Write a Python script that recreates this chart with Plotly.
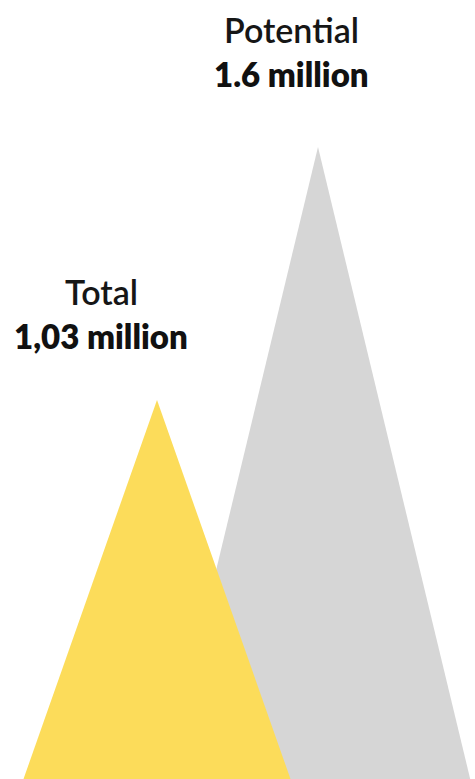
import plotly.graph_objects as go

# Values in millions
categories = ["Total", "Potential"]
values = [1.03, 1.6]
value_labels = ["1,03 million", "1.6 million"]

colors = {"Total": "#FCDC5A", "Potential": "#D6D6D6"}

W, H = 475, 779

# Triangle geometry (x in pixel-like units, y in millions)
centers = {"Total": 157, "Potential": 318}
half_base = {"Total": 161, "Potential": 171}

# Label placement (x in axis units, y as pixel offset from top)
label_x = {"Total": 101, "Potential": 291}
label_top = {"Total": 291, "Potential": 29}
line_gap = 45

fig = go.Figure()

# Draw the taller one first so the smaller sits in front
for name in ["Potential", "Total"]:
    v = values[categories.index(name)]
    c = centers[name]
    hb = half_base[name]
    fig.add_trace(go.Scatter(
        x=[c - hb, c, c + hb, c - hb],
        y=[0, v, 0, 0],
        mode="lines",
        fill="toself",
        fillcolor=colors[name],
        line=dict(width=0, color=colors[name]),
        hoverinfo="skip",
        showlegend=False,
    ))

for name, lab in zip(categories, value_labels):
    py = label_top[name]
    fig.add_annotation(
        x=label_x[name], xref="x",
        y=1 - py / H, yref="paper",
        text=name, showarrow=False,
        font=dict(family="Lato", size=34, color="#161616", weight=600),
        xanchor="center", yanchor="middle",
    )
    fig.add_annotation(
        x=label_x[name], xref="x",
        y=1 - (py + line_gap) / H, yref="paper",
        text=lab, showarrow=False,
        font=dict(family="Lato", size=33, color="#111111", weight=800),
        xanchor="center", yanchor="middle",
    )

fig.update_layout(
    width=W, height=H,
    margin=dict(l=0, r=0, t=0, b=0),
    paper_bgcolor="white", plot_bgcolor="white",
    xaxis=dict(range=[0, W], visible=False, fixedrange=True),
    yaxis=dict(range=[0.176, 1.931], visible=False, fixedrange=True),
)

fig.write_html("out.html", config={"displayModeBar": False})
